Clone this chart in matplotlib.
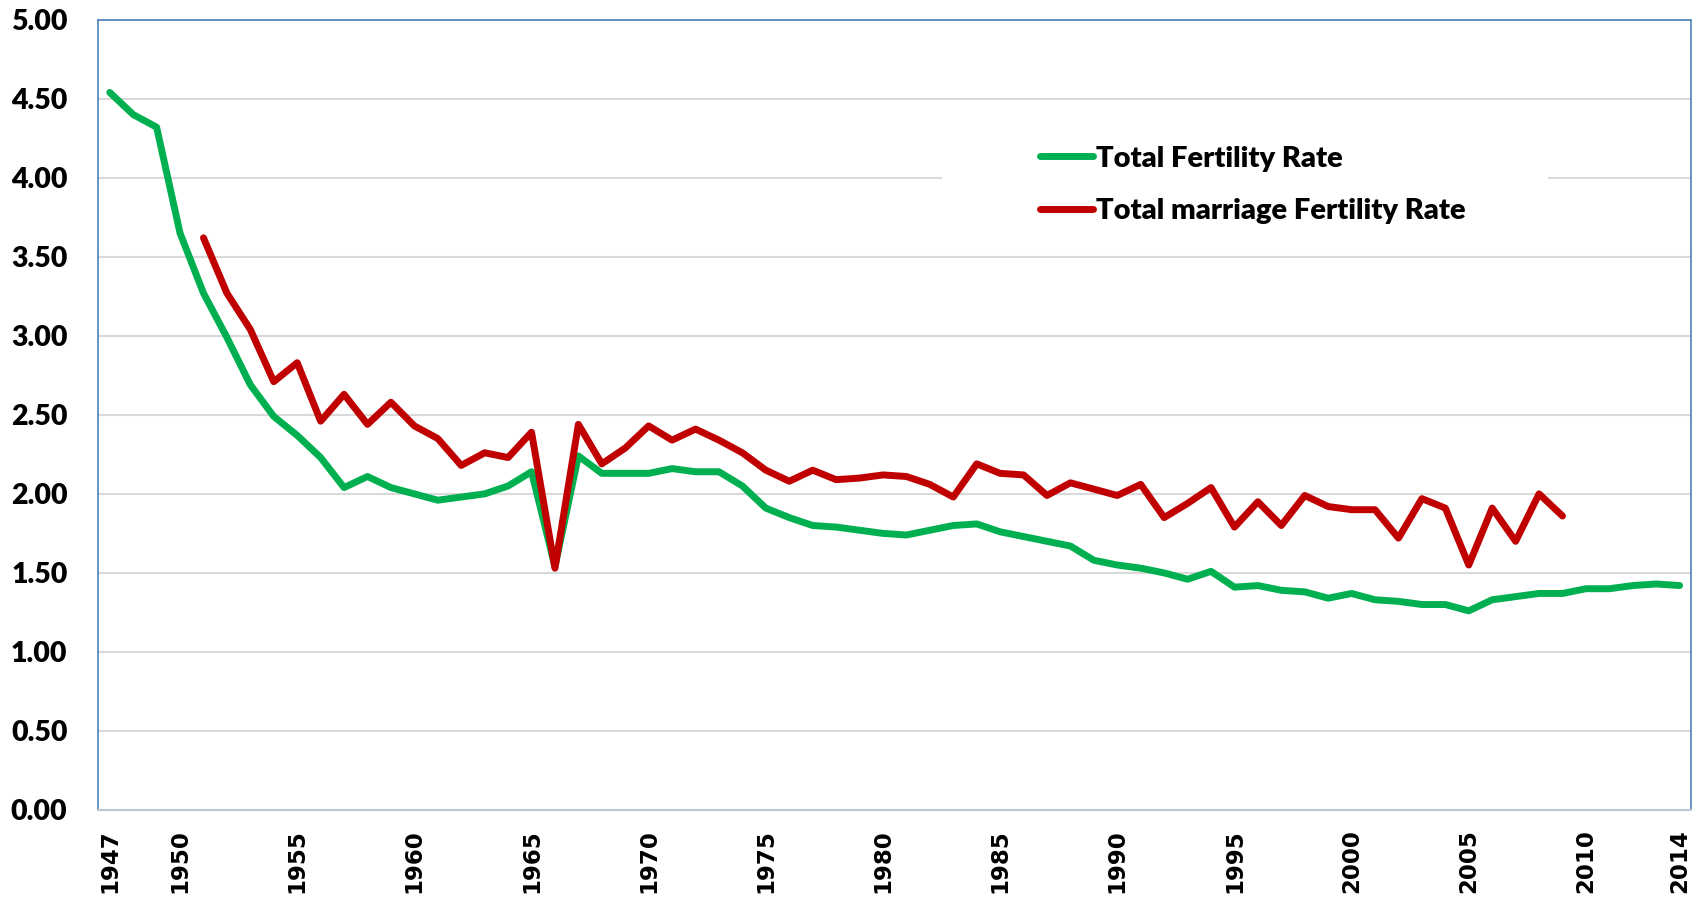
import matplotlib.pyplot as plt
from matplotlib.patches import Rectangle

# Data
years = list(range(1947, 2015))

tfr = [4.54, 4.40, 4.32, 3.65, 3.27, 2.99, 2.69, 2.49, 2.37, 2.23,
       2.04, 2.11, 2.04, 2.00, 1.96, 1.98, 2.00, 2.05, 2.14, 1.54,
       2.24, 2.13, 2.13, 2.13, 2.16, 2.14, 2.14, 2.05, 1.91, 1.85,
       1.80, 1.79, 1.77, 1.75, 1.74, 1.77, 1.80, 1.81, 1.76, 1.73,
       1.70, 1.67, 1.58, 1.55, 1.53, 1.50, 1.46, 1.51, 1.41, 1.42,
       1.39, 1.38, 1.34, 1.37, 1.33, 1.32, 1.30, 1.30, 1.26, 1.33,
       1.35, 1.37, 1.37, 1.40, 1.40, 1.42, 1.43, 1.42]

marriage_years = list(range(1951, 2010))
mtfr = [3.62, 3.27, 3.04, 2.71, 2.83, 2.46, 2.63, 2.44, 2.58, 2.43,
        2.35, 2.18, 2.26, 2.23, 2.39, 1.53, 2.44, 2.19, 2.29, 2.43,
        2.34, 2.41, 2.34, 2.26, 2.15, 2.08, 2.15, 2.09, 2.10, 2.12,
        2.11, 2.06, 1.98, 2.19, 2.13, 2.12, 1.99, 2.07, 2.03, 1.99,
        2.06, 1.85, 1.94, 2.04, 1.79, 1.95, 1.80, 1.99, 1.92, 1.90,
        1.90, 1.72, 1.97, 1.91, 1.55, 1.91, 1.70, 2.00, 1.86]

xtick_years = [1947, 1950, 1955, 1960, 1965, 1970, 1975, 1980, 1985,
               1990, 1995, 2000, 2005, 2010, 2014]
yticks = [0, 0.5, 1.0, 1.5, 2.0, 2.5, 3.0, 3.5, 4.0, 4.5, 5.0]

fig = plt.figure(figsize=(17.05, 8.97), dpi=100)
ax = fig.add_axes([0.0575, 0.097, 0.9345, 0.881])

ax.plot(years, tfr, color='#00B050', linewidth=5, solid_capstyle='round',
        solid_joinstyle='round', label='Total Fertility Rate', zorder=3)
ax.plot(marriage_years, mtfr, color='#C00000', linewidth=5, solid_capstyle='round',
        solid_joinstyle='round', label='Total marriage Fertility Rate', zorder=4)

ax.set_xlim(1946.5, 2014.5)
ax.set_ylim(0, 5)
ax.set_yticks(yticks)
ax.set_yticklabels([f'{v:.2f}' for v in yticks], fontsize=20.5, fontweight='heavy',
                   family='Lato')
ax.set_xticks(xtick_years)
ax.set_xticklabels([str(y) for y in xtick_years], rotation=90, fontsize=16.5,
                   fontweight='bold', family='DejaVu Sans')
ax.tick_params(axis='y', length=0, pad=22)
ax.tick_params(axis='x', length=0, pad=14)

ax.grid(axis='y', color='#D9D9D9', linewidth=1.5, zorder=0)
ax.set_axisbelow(True)

for side in ['left', 'top', 'right']:
    ax.spines[side].set_color('#4F81BD')
    ax.spines[side].set_linewidth(1.2)
ax.spines['bottom'].set_color('#BFC6D4')
ax.spines['bottom'].set_linewidth(1.5)

# white box behind the legend hides the gridline
ax.add_patch(Rectangle((0.53, 0.72), 0.38, 0.16, transform=ax.transAxes,
                       facecolor='white', edgecolor='none', zorder=1))

leg = ax.legend(loc='upper left', bbox_to_anchor=(0.575, 0.874), frameon=False,
                prop={'family': 'Lato', 'weight': 'heavy', 'size': 21},
                handlelength=1.8, handletextpad=0.1, labelspacing=0.9)

fig.savefig('out.png', dpi=100)
